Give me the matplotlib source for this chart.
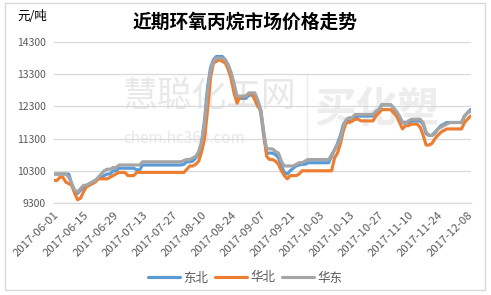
import numpy as np
import matplotlib
matplotlib.use("Agg")
import matplotlib.pyplot as plt
from matplotlib.patches import Rectangle

plt.rcParams['font.family'] = ['Noto Sans CJK SC', 'DejaVu Sans']

title = "近期环氧丙烷市场价格走势"
unit = "元/吨"
series_names = ["东北", "华北", "华东"]
tick_labels = ["2017-06-01", "2017-06-15", "2017-06-29", "2017-07-13", "2017-07-27",
               "2017-08-10", "2017-08-24", "2017-09-07", "2017-09-21", "2017-10-03",
               "2017-10-13", "2017-10-27", "2017-11-10", "2017-11-24", "2017-12-08"]
y_ticks = [9300, 10300, 11300, 12300, 13300, 14300]

dongbei = [10200, 10200, 10200, 10200, 10200, 10200, 9900, 9650, 9600, 9700,
           9800, 9850, 9900, 9950, 10000, 10050, 10100, 10150, 10200, 10200,
           10300, 10300, 10380, 10380, 10380, 10380, 10380, 10380, 10330, 10330,
           10480, 10480, 10480, 10480, 10480, 10480, 10480, 10480, 10480, 10480,
           10480, 10480, 10480, 10480, 10500, 10580, 10580, 10600, 10700, 10850,
           11200, 11900, 12900, 13500, 13750, 13850, 13850, 13850, 13750, 13550,
           13250, 12900, 12550, 12550, 12550, 12550, 12650, 12650, 12650, 12450,
           12100, 11400, 10850, 10850, 10850, 10800, 10700, 10450, 10250, 10200,
           10300, 10380, 10450, 10480, 10500, 10500, 10550, 10550, 10550, 10550,
           10550, 10550, 10550, 10550, 10750, 10950, 11150, 11400, 11750, 11850,
           11850, 11850, 11950, 12000, 12000, 12000, 12000, 12000, 12000, 12100,
           12200, 12350, 12350, 12350, 12350, 12250, 12100, 11950, 11800, 11800,
           11800, 11850, 11850, 11850, 11850, 11750, 11450, 11400, 11400, 11500,
           11600, 11700, 11750, 11800, 11800, 11800, 11800, 11800, 11800, 12000,
           12100, 12200]

huabei = [10000, 10000, 10100, 10100, 9950, 9900, 9850, 9600, 9400, 9450,
          9650, 9800, 9850, 9900, 9950, 10050, 10050, 10050, 10050, 10100,
          10150, 10200, 10250, 10250, 10250, 10150, 10150, 10150, 10250, 10250,
          10250, 10250, 10250, 10250, 10250, 10250, 10250, 10250, 10250, 10250,
          10250, 10250, 10250, 10250, 10250, 10350, 10450, 10450, 10500, 10600,
          10900, 11300, 12200, 13200, 13650, 13700, 13750, 13700, 13650, 13450,
          13150, 12700, 12400, 12600, 12600, 12620, 12700, 12700, 12500, 12300,
          12200, 11500, 10750, 10650, 10650, 10600, 10500, 10300, 10150, 10050,
          10150, 10150, 10150, 10200, 10300, 10300, 10300, 10300, 10300, 10300,
          10300, 10300, 10300, 10300, 10300, 10700, 10850, 11150, 11550, 11800,
          11800, 11850, 11900, 11900, 11850, 11850, 11850, 11850, 11850, 12000,
          12100, 12200, 12200, 12200, 12200, 12100, 12000, 11800, 11600, 11700,
          11700, 11750, 11750, 11750, 11650, 11400, 11100, 11100, 11150, 11300,
          11400, 11500, 11550, 11600, 11600, 11600, 11600, 11600, 11600, 11800,
          11900, 12000]

huadong = [10200, 10200, 10200, 10200, 10200, 10100, 9900, 9700, 9650, 9750,
           9850, 9850, 9900, 9950, 10000, 10100, 10200, 10300, 10350, 10350,
           10400, 10400, 10480, 10480, 10480, 10480, 10480, 10480, 10480, 10480,
           10580, 10580, 10580, 10580, 10580, 10580, 10580, 10580, 10580, 10580,
           10580, 10580, 10580, 10580, 10620, 10650, 10650, 10700, 10750, 10900,
           11200, 11800, 12800, 13400, 13700, 13800, 13800, 13800, 13750, 13600,
           13350, 13000, 12620, 12620, 12620, 12620, 12720, 12720, 12720, 12500,
           12200, 11500, 11000, 10980, 10980, 10900, 10850, 10600, 10450, 10450,
           10450, 10450, 10500, 10550, 10550, 10600, 10650, 10650, 10650, 10650,
           10650, 10650, 10650, 10650, 10800, 10950, 11100, 11300, 11700, 11900,
           11950, 11950, 12050, 12050, 12050, 12050, 12050, 12050, 12050, 12150,
           12200, 12350, 12350, 12350, 12350, 12250, 12150, 12000, 11800, 11750,
           11850, 11900, 11900, 11900, 11900, 11800, 11500, 11400, 11400, 11450,
           11600, 11650, 11700, 11750, 11800, 11800, 11800, 11800, 11800, 12000,
           12100, 12150]

colors = ["#5B9BD5", "#ED7D31", "#A5A5A5"]
txt = "#595959"
grid_c = "#D9D9D9"

fig = plt.figure(figsize=(4.91, 2.95), dpi=100)
fig.patch.set_facecolor("white")
fig.patches.append(Rectangle((5/491, 1 - 290/295), 480/491, 287/295, transform=fig.transFigure,
                             fill=False, edgecolor="#D9D9D9", linewidth=1.0))

ax = fig.add_axes([54/491, 1 - 203/295, 417/491, 161/295])
ax.set_facecolor("none")

# watermark
wm = "#E8E8E8"
ax.text(0.165, 0.66, "慧聪化工网", transform=ax.transAxes, fontsize=25, color=wm,
        ha="left", va="center", zorder=0)
ax.text(0.165, 0.40, "chem.hc360.com", transform=ax.transAxes, fontsize=11, color=wm,
        ha="left", va="center", zorder=0)
ax.text(0.625, 0.58, "买化塑", transform=ax.transAxes, fontsize=30, color="#EDEDED",
        ha="left", va="center", zorder=0, fontweight="bold", style="italic")
ax.plot([0.607, 0.607], [0.22, 0.80], transform=ax.transAxes, color="#EDEDED", lw=1, zorder=0)

for name, vals, c in zip(series_names, [dongbei, huabei, huadong], colors):
    ax.plot(np.arange(len(vals)), vals, color=c, lw=2.25, label=name, zorder=3,
            solid_joinstyle="round", solid_capstyle="round")

n = len(dongbei)
ax.set_xlim(0, n - 0.8)
ax.set_ylim(y_ticks[0], y_ticks[-1])
ax.set_yticks(y_ticks)
ax.set_yticklabels([str(v) for v in y_ticks], fontsize=7.5, color=txt)
ax.yaxis.grid(True, color=grid_c, lw=0.9)
ax.set_axisbelow(True)
ax.set_xticks(np.arange(0, len(tick_labels) * 10, 10))
ax.set_xticklabels(tick_labels, rotation=45, ha="right", va="top", rotation_mode="anchor",
                   fontsize=8.2, color=txt)
ax.tick_params(axis="y", length=0, pad=6)
ax.tick_params(axis="x", length=0, pad=5)
for s in ["top", "right", "left"]:
    ax.spines[s].set_visible(False)
ax.spines["bottom"].set_color(grid_c)
ax.spines["bottom"].set_linewidth(0.9)

fig.text(245/491, 1 - 22/295, title, ha="center", va="center", fontsize=13.5,
         fontweight="bold", color="black")
fig.text(17/491, 1 - 16/295, unit, ha="left", va="center", fontsize=9, color="black")

leg = fig.legend(loc="center", bbox_to_anchor=(245/491, 1 - 278/295), ncol=3, frameon=False,
                 fontsize=9, handlelength=2.6, handletextpad=0.25, columnspacing=0.5,
                 labelcolor=txt)

fig.savefig("out.png", dpi=100, facecolor="white")
